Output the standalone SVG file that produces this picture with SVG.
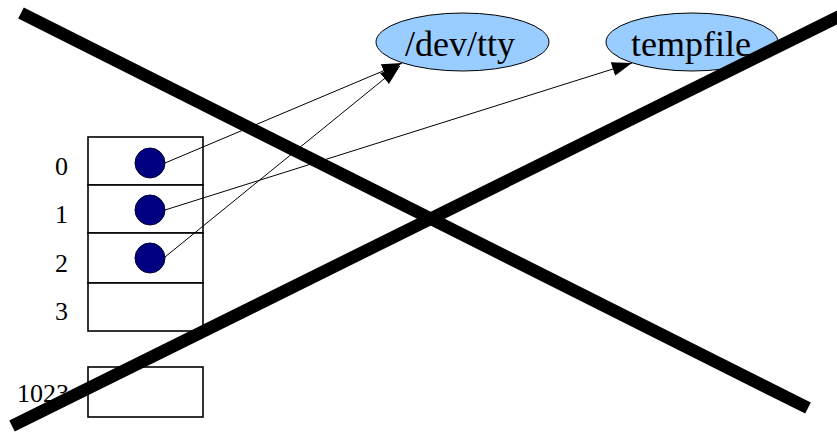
<svg xmlns="http://www.w3.org/2000/svg" width="837" height="432" viewBox="0 0 837 432">
<style>
.box{fill:#fff;stroke:#000;stroke-width:1.6}
.dot{fill:#000080;stroke:#000033;stroke-width:1}
.ell{fill:#99ccff;stroke:#000;stroke-width:1}
.lbl{font-family:"Liberation Serif",serif;font-size:26px;fill:#000}
.big{font-family:"Liberation Serif",serif;font-size:36px;fill:#000;text-anchor:middle}
.conn{stroke:#000;stroke-width:1;fill:none;marker-end:url(#ah)}
.cross{stroke:#000;stroke-width:12.5;stroke-linecap:butt}
</style>
<defs>
<marker id="ah" markerUnits="userSpaceOnUse" markerWidth="22" markerHeight="16" refX="20" refY="7" orient="auto">
<path d="M0,0 L20,7 L0,14 z" fill="#000"/>
</marker>
</defs>
<rect width="837" height="432" fill="#fff"/>
<g id="table">
<rect class="box" x="88" y="137" width="115" height="48"/>
<rect class="box" x="88" y="185" width="115" height="48"/>
<rect class="box" x="88" y="233" width="115" height="50"/>
<rect class="box" x="88" y="283" width="115" height="48"/>
<rect class="box" x="88" y="367" width="115" height="50"/>
</g>
<g id="labels">
<text class="lbl" x="55" y="175">0</text>
<text class="lbl" x="55" y="223">1</text>
<text class="lbl" x="55" y="272">2</text>
<text class="lbl" x="55" y="320">3</text>
<text class="lbl" x="17" y="402">1023</text>
</g>
<g id="fd0"><circle class="dot" cx="150" cy="163" r="15"/></g>
<g id="fd1"><circle class="dot" cx="150" cy="210" r="15"/></g>
<g id="fd2"><circle class="dot" cx="150" cy="258" r="15"/></g>
<g id="devtty">
<ellipse class="ell" cx="462.5" cy="42" rx="86.5" ry="29"/>
<text class="big" x="460" y="56">/dev/tty</text>
</g>
<g id="tempfile">
<ellipse class="ell" cx="692" cy="42" rx="86" ry="29"/>
<text class="big" x="691" y="56">tempfile</text>
</g>
<g id="connectors">
<line class="conn" x1="165" y1="163" x2="402" y2="63"/>
<line class="conn" x1="165" y1="210" x2="632" y2="63"/>
<line class="conn" x1="165" y1="257" x2="400" y2="66"/>
</g>
<g id="cross">
<line class="cross" x1="21" y1="13" x2="808" y2="408"/>
<line class="cross" x1="12" y1="426" x2="840" y2="16"/>
</g>
</svg>
